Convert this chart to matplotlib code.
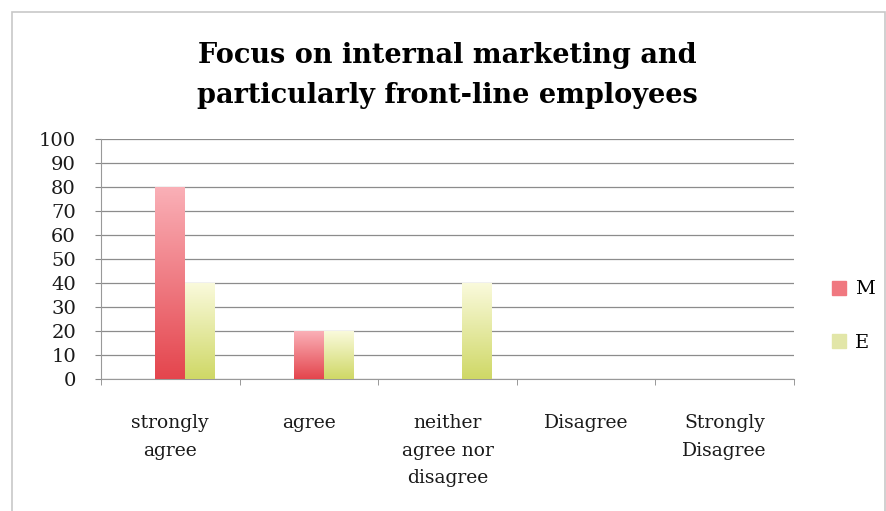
import numpy as np
import matplotlib.pyplot as plt
from matplotlib.colors import LinearSegmentedColormap
from matplotlib.patches import Rectangle

# survey responses (%)
categories = ["strongly\nagree", "agree", "neither\nagree nor\ndisagree",
              "Disagree", "Strongly\nDisagree"]
m_values = [80, 20, 0, 0, 0]
e_values = [40, 20, 40, 0, 0]
series_names = ["M", "E"]
y_ticks = [0, 10, 20, 30, 40, 50, 60, 70, 80, 90, 100]

plt.rcParams["font.family"] = ["DejaVu Serif"]

fig = plt.figure(figsize=(8.87, 5.11), dpi=100)
fig.patch.set_facecolor("white")

# outer chart frame
fig.add_artist(Rectangle((12 / 887, -0.02), 873 / 887, 1 - 12 / 511 + 0.02,
                         transform=fig.transFigure, fill=False,
                         edgecolor="#c8c8c8", linewidth=1.2))

ax = fig.add_axes([101 / 887, 1 - 379 / 511, 693 / 887, 240 / 511])

x = np.arange(len(categories))
width = 0.216

m_bars = ax.bar(x, m_values, width, color="none", label=series_names[0])
e_bars = ax.bar(x + width, e_values, width, color="none", label=series_names[1])

# vertical gradient fill, light at the top, darker at the base
m_cmap = LinearSegmentedColormap.from_list("m", ["#e4454d", "#fab0b7"])
e_cmap = LinearSegmentedColormap.from_list("e", ["#cfd866", "#fafadc"])
grad = np.linspace(0, 1, 256).reshape(-1, 1)
for bars, cmap in [(m_bars, m_cmap), (e_bars, e_cmap)]:
    for patch in bars:
        h = patch.get_height()
        if h <= 0:
            continue
        x0 = patch.get_x()
        im = ax.imshow(grad, cmap=cmap, origin="lower", aspect="auto",
                       extent=[x0, x0 + patch.get_width(), 0, h], zorder=3)
        im.set_clip_path(patch)

ax.set_xlim(-0.5, len(categories) - 0.5)
ax.set_ylim(0, 100)
ax.set_yticks(y_ticks)
ax.set_yticklabels([str(v) for v in y_ticks], fontsize=14, color="#1a1a1a")
ax.set_xticks(x)
ax.set_xticklabels(categories, fontsize=13.5, color="#1a1a1a",
                   linespacing=1.7)
ax.set_xticks(np.arange(len(categories) + 1) - 0.5, minor=True)
ax.tick_params(axis="x", which="major", length=0, pad=25)
ax.tick_params(axis="x", which="minor", length=4, color="#888888")
ax.tick_params(axis="y", length=4, color="#888888", pad=14)

ax.grid(axis="y", color="#8c8c8c", linewidth=0.9)
ax.set_axisbelow(True)
for side in ["top", "right"]:
    ax.spines[side].set_visible(False)
ax.spines["left"].set_color("#999999")
ax.spines["bottom"].set_color("#999999")

ax.set_title("Focus on internal marketing and\nparticularly front-line employees",
             fontsize=19.5, fontweight="bold", linespacing=1.6, pad=26)

handles = [Rectangle((0, 0), 1, 1, color="#f07880"),
           Rectangle((0, 0), 1, 1, color="#e2e6a8")]
fig.legend(handles, series_names, loc="center left",
           bbox_to_anchor=(832 / 887, 1 - 316 / 511), frameon=False,
           borderpad=0, borderaxespad=0,
           fontsize=14, handlelength=0.7, handleheight=0.7,
           handletextpad=0.5, labelspacing=1.8)

plt.savefig("out.png", dpi=100)
plt.close()
